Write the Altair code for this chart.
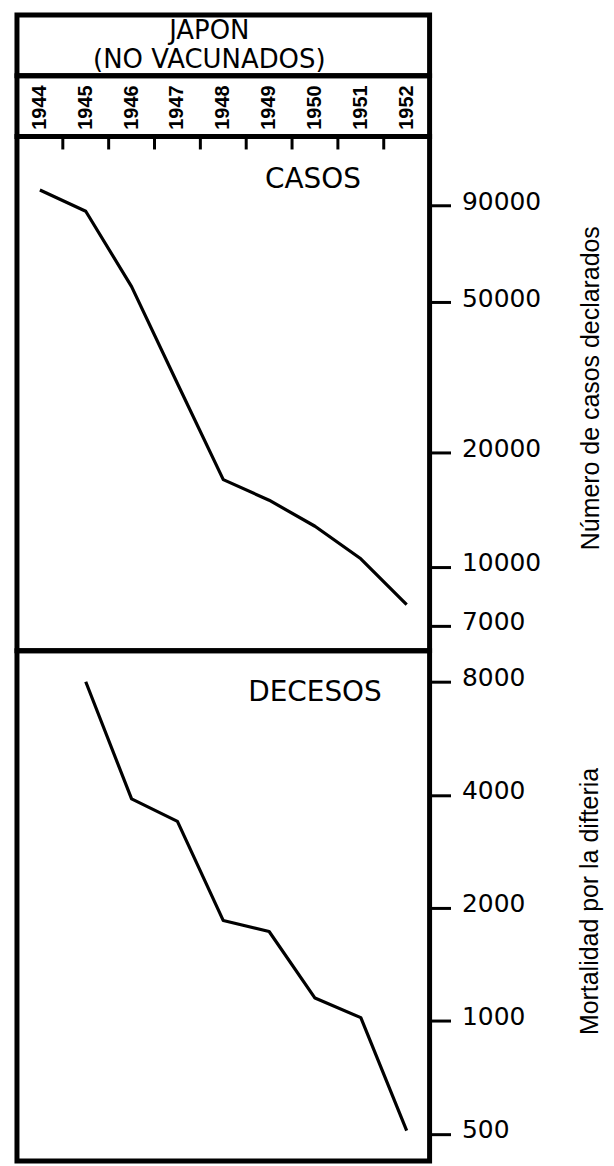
import altair as alt
import pandas as pd

# ---- data ----
years = [1944, 1945, 1946, 1947, 1948, 1949, 1950, 1951, 1952]
casos_years = [1944, 1945, 1946, 1947, 1948, 1949, 1950, 1951, 1952]
casos = [99000, 87000, 55000, 30500, 17000, 15000, 12800, 10500, 7950]
decesos_years = [1945, 1946, 1947, 1948, 1949, 1950, 1951, 1952]
decesos = [8000, 3900, 3400, 1850, 1730, 1150, 1020, 510]
casos_ticks = [7000, 10000, 20000, 50000, 90000]
decesos_ticks = [500, 1000, 2000, 4000, 8000]
top_ticks = [1944.5, 1945.5, 1946.5, 1947.5, 1948.5, 1949.5, 1950.5, 1951.5]
header_lines = ["JAPON", "(NO VACUNADOS)"]
panel_labels = ["CASOS", "DECESOS"]
axis_titles = ["Número de casos declarados", "Mortalidad por la difteria"]

W = 414
xscale = alt.Scale(domain=[1943.5, 1952.5], nice=False, zero=False)
HFONT = "DejaVu Sans"
VFONT = "Liberation Sans"


def one(text):
    return pd.DataFrame({"t": [text]})


# ---- header ----
h1 = alt.Chart(one(header_lines[0])).mark_text(
    font=HFONT, fontSize=26, align="center", baseline="alphabetic", color="black"
).encode(x=alt.value(193), y=alt.value(24.5), text="t:N")
h2 = alt.Chart(one(header_lines[1])).mark_text(
    font=HFONT, fontSize=26, align="center", baseline="alphabetic", color="black"
).encode(x=alt.value(193), y=alt.value(53.5), text="t:N")
header = alt.layer(h1, h2).properties(width=W, height=61)

# ---- year row ----
year_row = alt.Chart(pd.DataFrame({"year": years})).mark_text(
    font=VFONT, fontSize=20, fontWeight="bold", angle=270, align="center",
    baseline="middle", color="black"
).encode(
    x=alt.X("year:Q", scale=xscale, axis=None),
    y=alt.value(32),
    text=alt.Text("year:Q", format="d"),
).properties(width=W, height=61)


def right_axis(values, title, title_x, title_y):
    return alt.Axis(
        orient="right", values=values, format="d", title=title,
        domain=False, grid=False, ticks=True, tickSize=21, tickWidth=3,
        tickColor="black", labelFont=HFONT, labelFontSize=25, labelColor="black",
        labelPadding=11, labelOffset=-4, labelOverlap=False,
        titleFont=VFONT, titleFontSize=25, titleFontWeight="normal",
        titleColor="black", titleAngle=270, titleX=title_x, titleY=title_y,
        titleAlign="center", titleBaseline="alphabetic",
    )


# ---- CASOS panel ----
cdf = pd.DataFrame({"year": casos_years, "casos": casos})
c_line = alt.Chart(cdf).mark_line(color="black", strokeWidth=3.2, strokeJoin="round").encode(
    x=alt.X("year:Q", scale=xscale, axis=None),
    y=alt.Y("casos:Q", scale=alt.Scale(type="log", domain=[6000, 137080], nice=False),
            axis=right_axis(casos_ticks, axis_titles[0], 169, 252)),
)
c_ticks = alt.Chart(pd.DataFrame({"t": top_ticks})).mark_rule(color="black", strokeWidth=3).encode(
    x=alt.X("t:Q", scale=xscale, axis=None), y=alt.value(0), y2=alt.value(13)
)
c_label = alt.Chart(one(panel_labels[0])).mark_text(
    font=HFONT, fontSize=28, align="center", baseline="alphabetic", color="black"
).encode(x=alt.value(297), y=alt.value(52), text="t:N")
casos_panel = alt.layer(c_line, c_ticks, c_label).properties(width=W, height=516)

# ---- DECESOS panel ----
ddf = pd.DataFrame({"year": decesos_years, "decesos": decesos})
d_line = alt.Chart(ddf).mark_line(color="black", strokeWidth=3.2, strokeJoin="round").encode(
    x=alt.X("year:Q", scale=xscale, axis=None),
    y=alt.Y("decesos:Q", scale=alt.Scale(type="log", domain=[423.2, 9675], nice=False),
            axis=right_axis(decesos_ticks, axis_titles[1], 168, 251)),
)
d_label = alt.Chart(one(panel_labels[1])).mark_text(
    font=HFONT, fontSize=28, align="center", baseline="alphabetic", color="black"
).encode(x=alt.value(299), y=alt.value(50), text="t:N")
decesos_panel = alt.layer(d_line, d_label).properties(width=W, height=512)

chart = alt.vconcat(
    header, year_row, casos_panel, decesos_panel, spacing=0, bounds="flush"
).resolve_scale(y="independent").properties(
    padding={"left": 6, "top": 2, "right": 0, "bottom": 0},
    background="white",
).configure_view(stroke="black", strokeWidth=5)

chart.save("out.html", embed_options={"renderer": "svg", "actions": False})
